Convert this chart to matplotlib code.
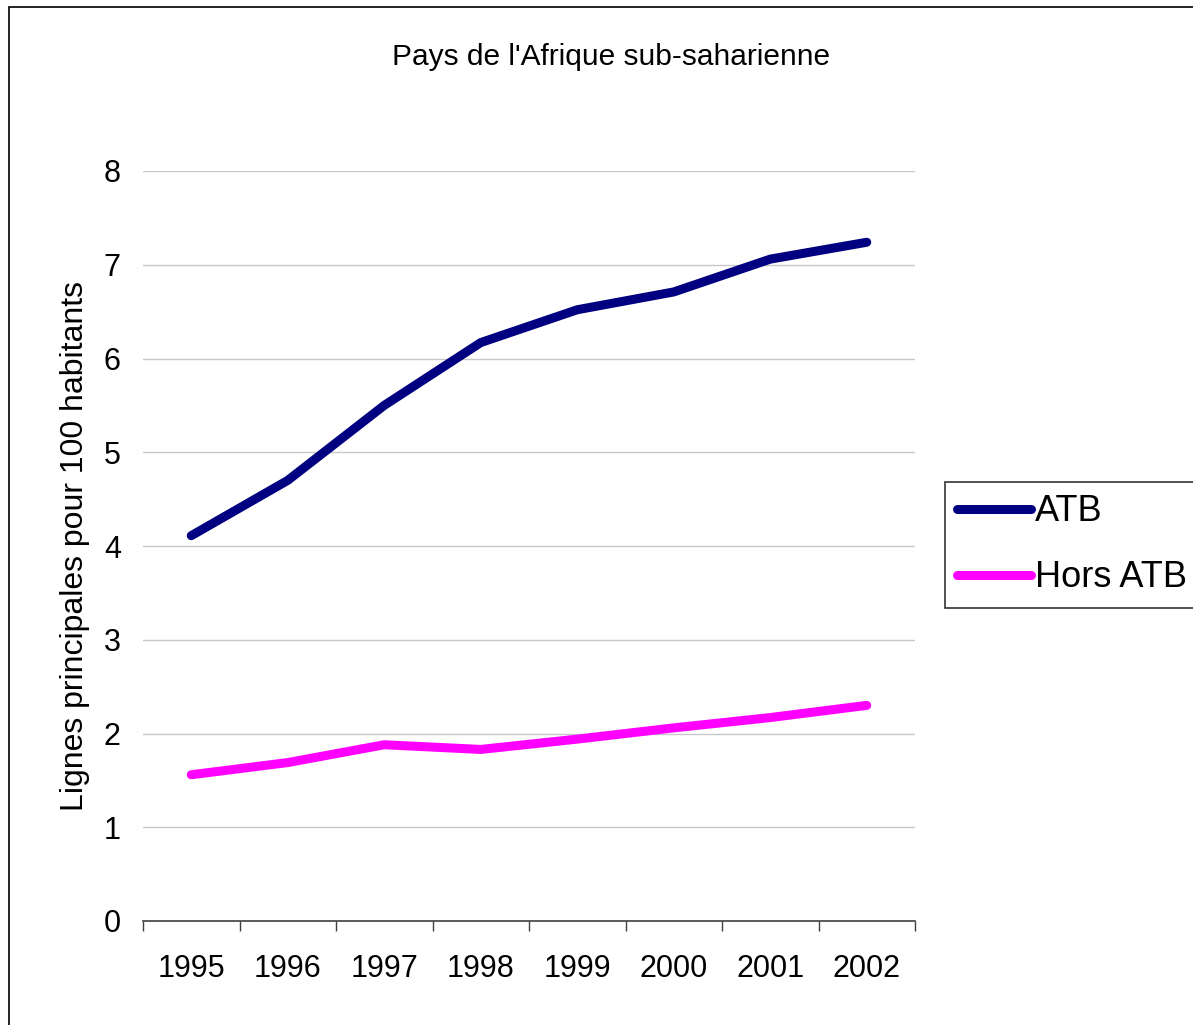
import matplotlib
matplotlib.use('Agg')
import matplotlib.pyplot as plt
from matplotlib.patches import Rectangle
import numpy as np

plt.rcParams['font.family'] = ['Liberation Sans', 'DejaVu Sans']

years = ['1995', '1996', '1997', '1998', '1999', '2000', '2001', '2002']
atb = [4.11, 4.70, 5.50, 6.17, 6.52, 6.71, 7.06, 7.24]
hors_atb = [1.56, 1.69, 1.88, 1.83, 1.94, 2.06, 2.17, 2.30]
yticks = [0, 1, 2, 3, 4, 5, 6, 7, 8]

W, H = 1193, 1025
fig = plt.figure(figsize=(W / 100, H / 100), dpi=100)

# outer chart border (right and bottom edges fall outside the picture)
fig.patches.append(Rectangle((9 / W, -0.05), 1.1, 1 - 7 / H + 0.05,
                             transform=fig.transFigure, fill=False,
                             edgecolor='#000000', linewidth=1.2))

ax = fig.add_axes([143 / W, 1 - 921 / H, (915 - 143) / W, (921 - 171) / H])

x = np.arange(len(years))
ax.plot(x, atb, color='#000080', linewidth=6.5, solid_capstyle='round',
        solid_joinstyle='round', label='ATB')
ax.plot(x, hors_atb, color='#FF00FF', linewidth=6.5, solid_capstyle='round',
        solid_joinstyle='round', label='Hors ATB')

ax.set_xlim(-0.5, len(years) - 0.5)
ax.set_ylim(0, 8)

# category boundaries get the tick marks, centres get the labels
ax.set_xticks(np.arange(len(years) + 1) - 0.5)
ax.set_xticklabels([])
ax.set_xticks(x, minor=True)
ax.set_xticklabels(years, minor=True, fontsize=22)
ax.tick_params(axis='x', which='major', direction='out', length=7,
               width=1, color='#404040')
ax.tick_params(axis='x', which='minor', length=0, pad=24)

ax.set_yticks(yticks)
ax.set_yticklabels([str(v) for v in yticks], fontsize=22)
ax.tick_params(axis='y', length=0, pad=16)
ax.yaxis.grid(True, color='#C8C8C8', linewidth=1)
ax.set_axisbelow(True)

for s in ['top', 'right', 'left']:
    ax.spines[s].set_visible(False)
ax.spines['bottom'].set_color('#404040')
ax.spines['bottom'].set_linewidth(1.2)

ax.set_ylabel('Lignes principales pour 100 habitants', fontsize=23, labelpad=10)

fig.text(611 / W, 1 - 57 / H, "Pays de l'Afrique sub-saharienne",
         fontsize=21.5, ha='center', va='center')

leg = fig.legend(loc='upper left', bbox_to_anchor=(945 / W, 1 - 482 / H),
                 bbox_transform=fig.transFigure, fontsize=26, frameon=True,
                 fancybox=False, handlelength=2.05, handletextpad=0.1,
                 borderpad=0.34, labelspacing=0.86, borderaxespad=0)
leg.get_frame().set_edgecolor('#000000')
leg.get_frame().set_linewidth(1.2)

fig.savefig('out.png', dpi=100)
